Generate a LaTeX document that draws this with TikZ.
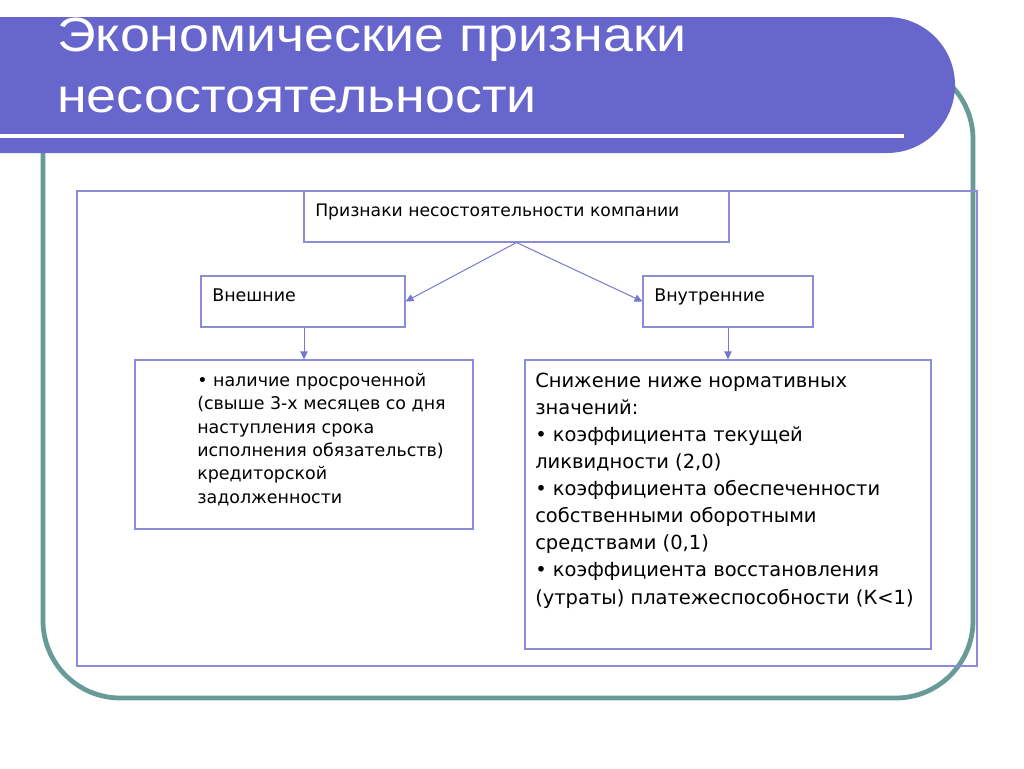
\documentclass[tikz,border=0pt]{standalone}
\usepackage{fontspec}
\setmainfont{DejaVu Sans}
\newfontfamily\titlefont[FakeStretch=1.12]{Liberation Sans}
\newfontfamily\tahoma{DejaVu Sans}
\newfontfamily\verdana{DejaVu Sans}
\usetikzlibrary{arrows.meta,calc,fit}
\definecolor{bannerc}{RGB}{102,102,204}
\definecolor{frameteal}{RGB}{104,154,152}
\definecolor{boxline}{RGB}{140,140,214}
\definecolor{arrowc}{RGB}{120,120,206}
\tikzset{
  boxshape/.style={draw=boxline, line width=0.8pt, inner sep=0pt},
  linetext/.style={anchor=base west, inner sep=0pt, text=black},
  hdrtxt/.style={font=\tahoma\fontsize{12.9}{17.5}\selectfont},
  smalltxt/.style={font=\tahoma\fontsize{13.1}{17.5}\selectfont},
  bigtxt/.style={font=\verdana\fontsize{14.6}{20.3}\selectfont},
  titletxt/.style={font=\titlefont\fontsize{36}{46}\selectfont, text=white},
  conn/.style={draw=arrowc, line width=0.75pt, -{Triangle[length=6pt,width=5.5pt]}},
}
\begin{document}
\begin{tikzpicture}[x=0.75pt,y=-0.75pt]
\useasboundingbox (0,0) rectangle (1024,768);
% teal frame
\draw[frameteal, line width=3.6pt, rounded corners=58pt] (43,62) rectangle (973,698);
% banner
\fill[bannerc] (-10,17) -- (887,17) arc[start angle=-90,end angle=90,radius=68] -- (-10,153) -- cycle;
\draw[white, line width=3pt] (-10,136) -- (904,136);
\node[linetext, titletxt] (t1) at (57,51) {Экономические признаки};
\node[linetext, titletxt] (t2) at (57,112) {несостоятельности};
% outer thin box
\node[boxshape, fit={(77,191) (977,666)}] (outer) {};
% boxes
\node[boxshape, fit={(304,191) (729,242)}] (hdr) {};
\node[boxshape, fit={(201,276) (405,327)}] (ext) {};
\node[boxshape, fit={(643,276) (813,327)}] (int) {};
\node[boxshape, fit={(135,360) (473,529)}] (extd) {};
\node[boxshape, fit={(525,360) (931,649)}] (intd) {};
% texts
\node[linetext, hdrtxt] (hdrt) at (315,216) {Признаки несостоятельности компании};
\node[linetext, smalltxt] (extt) at (212,301) {Внешние};
\node[linetext, smalltxt] (intt) at (654,301) {Внутренние};
\node[linetext, smalltxt, align=left] (extdt) at (197,503) {• наличие просроченной\\(свыше 3-х месяцев со дня\\наступления срока\\исполнения обязательств)\\кредиторской\\задолженности};
\node[linetext, bigtxt, align=left] (intdt) at (535,604) {Снижение ниже нормативных\\значений:\\• коэффициента текущей\\ликвидности (2,0)\\• коэффициента обеспеченности\\собственными оборотными\\средствами (0,1)\\• коэффициента восстановления\\(утраты) платежеспособности (К<1)};
% connectors
\draw[conn] (hdr.south) -- (ext.east);
\draw[conn] (hdr.south) -- (int.west);
\draw[conn] (extd.north |- ext.south) -- (extd.north);
\draw[conn] (intd.north |- int.south) -- (intd.north);
\end{tikzpicture}
\end{document}
